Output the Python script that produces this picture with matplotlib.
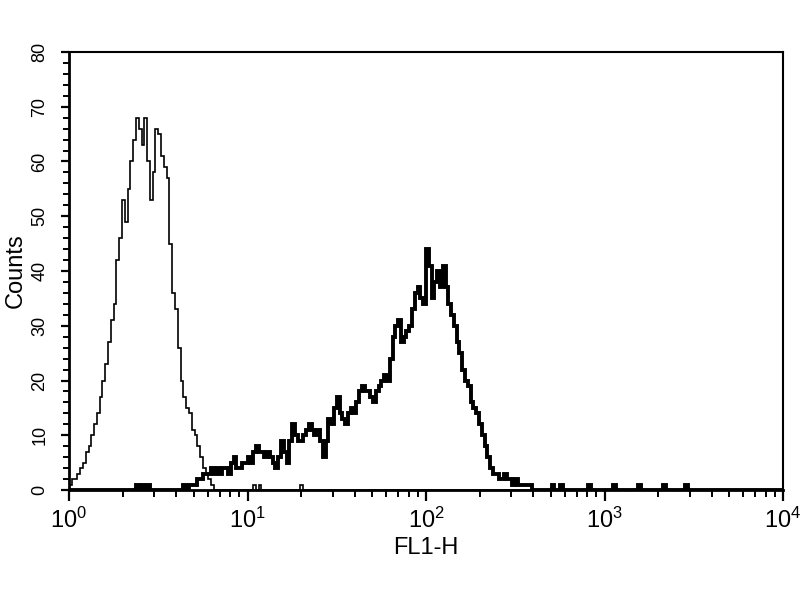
import numpy as np
import matplotlib
matplotlib.use("Agg")
import matplotlib.pyplot as plt
from matplotlib.ticker import MultipleLocator, LogLocator, NullFormatter, FixedLocator, FixedFormatter

plt.rcParams['font.family'] = ['Liberation Sans', 'DejaVu Sans']
plt.rcParams['mathtext.fontset'] = 'custom'
plt.rcParams['mathtext.rm'] = 'Liberation Sans'

# 256 log channels over 4 decades (64 channels / decade)
n_channels = 256
decades = 4

# Control (thin line): counts for channels 0..51
control_counts = [1, 2, 2, 3, 4, 5, 7, 8, 10, 12, 14, 17, 20, 23, 27, 31, 34, 42, 46, 53,
                  49, 55, 60, 64, 68, 66, 63, 68, 60, 53, 58, 66, 65, 61, 59, 57, 45, 36, 33, 26,
                  20, 17, 15, 14, 11, 10, 8, 6, 4, 3, 2, 1]
control_sparse_channels = [66, 68, 83]
control_sparse_counts = [1, 1, 1]

# Sample (thick line): counts for channels 40..165
sample_start = 40
sample_counts = [0, 1, 0, 1, 1, 1, 2, 2, 3, 3, 3, 4, 3, 4, 3, 4, 4, 3, 5, 6,
                 4, 4, 5, 5, 6, 5, 7, 8, 7, 7, 6, 7, 6, 5, 4, 6, 9, 7, 5, 9,
                 12, 10, 9, 9, 10, 11, 12, 11, 10, 11, 9, 6, 9, 13, 12, 15, 17, 14, 13, 12,
                 14, 15, 14, 16, 18, 19, 18, 18, 17, 16, 18, 19, 20, 21, 20, 24, 28, 30, 31, 27,
                 28, 29, 30, 33, 36, 37, 35, 34, 44, 41, 35, 38, 40, 37, 41, 37, 34, 32, 30, 27,
                 25, 22, 20, 19, 16, 15, 14, 12, 10, 8, 6, 4, 3, 3, 2, 2, 3, 2, 2, 1,
                 2, 1, 1, 1, 1, 1]
sample_sparse_channels = [24, 26, 28, 173, 176, 186, 195, 204, 213, 221]
sample_sparse_counts = [1, 1, 1, 1, 1, 1, 1, 1, 1, 1]

x_tick_values = [1, 10, 100, 1000, 10000]
x_tick_labels = [r'$\mathregular{10^{0}}$', r'$\mathregular{10^{1}}$', r'$\mathregular{10^{2}}$',
                 r'$\mathregular{10^{3}}$', r'$\mathregular{10^{4}}$']
y_tick_values = [0, 10, 20, 30, 40, 50, 60, 70, 80]

# Build full channel arrays
edges = np.logspace(0, decades, n_channels + 1)
control = np.zeros(n_channels)
control[:len(control_counts)] = control_counts
control[control_sparse_channels] = control_sparse_counts
sample = np.zeros(n_channels)
sample[sample_start:sample_start + len(sample_counts)] = sample_counts
sample[sample_sparse_channels] = sample_sparse_counts

fig = plt.figure(figsize=(8, 6), dpi=100)
ax = fig.add_axes([69 / 800, 1 - 490 / 600, (783 - 69) / 800, (490 - 52) / 600])

ax.stairs(control, edges, color='black', linewidth=1.2)
ax.stairs(sample, edges, color='black', linewidth=2.8)

ax.set_xscale('log')
ax.set_xlim(1, 10000)
ax.set_ylim(0, 80)

ax.xaxis.set_major_locator(FixedLocator(x_tick_values))
ax.xaxis.set_major_formatter(FixedFormatter(x_tick_labels))
ax.xaxis.set_minor_locator(LogLocator(base=10, subs=np.arange(2, 10)))
ax.xaxis.set_minor_formatter(NullFormatter())

ax.yaxis.set_major_locator(FixedLocator(y_tick_values))
ax.yaxis.set_minor_locator(MultipleLocator(2))

for s in ['left', 'bottom']:
    ax.spines[s].set_linewidth(2.0)
for s in ['top', 'right']:
    ax.spines[s].set_linewidth(1.5)

ax.tick_params(axis='x', which='major', direction='out', length=8, width=1.6, labelsize=17, pad=5)
ax.tick_params(axis='x', which='minor', direction='out', length=5, width=1.4)
ax.tick_params(axis='y', which='major', direction='out', length=6, width=1.6, labelsize=13, pad=9)
ax.tick_params(axis='y', which='minor', direction='out', length=4, width=1.4)
for lab in ax.get_yticklabels():
    lab.set_rotation(90)
    lab.set_va('center')

ax.set_xlabel('FL1-H', fontsize=17, labelpad=3)
ax.set_ylabel('Counts', fontsize=17, labelpad=3)

fig.savefig('out.png', dpi=100)
